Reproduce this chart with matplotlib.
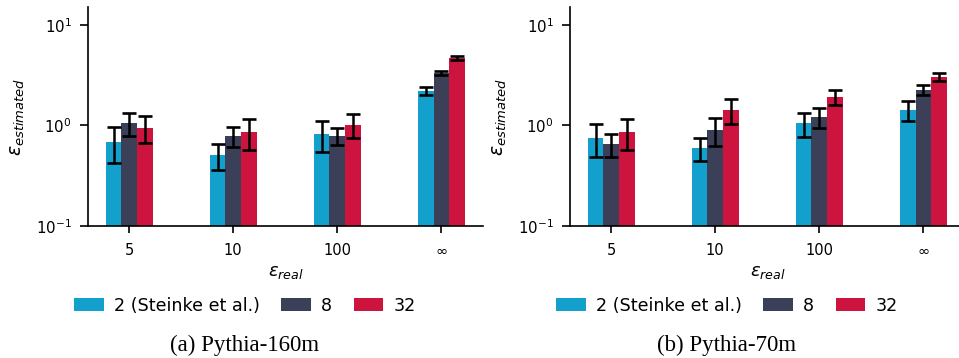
import matplotlib
matplotlib.use("Agg")
import matplotlib.pyplot as plt
import numpy as np

categories = ["5", "10", "100", r"$\infty$"]
series_names = ["2 (Steinke et al.)", "8", "32"]
colors = ["#14a0cd", "#3c3f58", "#cd143e"]

# Pythia-160m
p160_vals = [
    [0.69, 0.51, 0.83, 2.21],
    [1.06, 0.79, 0.79, 3.34],
    [0.95, 0.865, 1.02, 4.72],
]
p160_err = [
    [0.27, 0.15, 0.28, 0.21],
    [0.28, 0.18, 0.155, 0.16],
    [0.28, 0.30, 0.275, 0.20],
]
# Pythia-70m
p70_vals = [
    [0.755, 0.60, 1.06, 1.43],
    [0.658, 0.906, 1.22, 2.27],
    [0.865, 1.43, 1.93, 3.05],
]
p70_err = [
    [0.27, 0.155, 0.285, 0.33],
    [0.17, 0.285, 0.27, 0.27],
    [0.29, 0.40, 0.32, 0.27],
]
captions = ["(a) Pythia-160m", "(b) Pythia-70m"]

W, H = 959, 358
fig = plt.figure(figsize=(W / 100, H / 100), dpi=100)

def px_rect(x0, x1, ytop, ybot):
    return [x0 / W, (H - ybot) / H, (x1 - x0) / W, (ybot - ytop) / H]

axes_px = [(88, 483), (570, 965)]
legend_cx = [245, 727]
datasets = [(p160_vals, p160_err), (p70_vals, p70_err)]

x = np.arange(len(categories))
width = 0.15
for k, ((vals, errs), (x0, x1)) in enumerate(zip(datasets, axes_px)):
    ax = fig.add_axes(px_rect(x0, x1, 7, 226))
    handles = []
    for i in range(3):
        b = ax.bar(x + (i - 1) * width, vals[i], width, color=colors[i],
                   label=series_names[i], zorder=2)
        ax.errorbar(x + (i - 1) * width, vals[i], yerr=errs[i], fmt="none",
                    ecolor="black", elinewidth=1.8, capsize=4.7, capthick=1.9,
                    zorder=3)
        handles.append(b)
    ax.set_yscale("log")
    ax.set_ylim(0.1, 15.1)
    ax.set_xlim(-0.395, 3.4)
    ax.set_xticks(x)
    ax.set_xticklabels(categories, fontsize=10.5)
    ax.tick_params(axis="y", labelsize=10.8, length=5.8, width=1.2, pad=6)
    ax.tick_params(axis="x", length=5.0, width=1.2, pad=7)
    ax.minorticks_off()
    ax.set_yticks([0.1, 1, 10])
    for s in ["top", "right"]:
        ax.spines[s].set_visible(False)
    for s in ["left", "bottom"]:
        ax.spines[s].set_linewidth(1.2)
    ax.set_ylabel(r"$\varepsilon_{estimated}$", fontsize=13.5, labelpad=6.5)
    ax.set_xlabel(r"$\varepsilon_{real}$", fontsize=13, labelpad=4)
    fig.legend(handles=handles, labels=series_names, loc="center",
               bbox_to_anchor=(legend_cx[k] / W, (H - 306) / H), ncol=3,
               frameon=False, fontsize=12.6, handlelength=1.7, handleheight=0.75,
               handletextpad=0.6, columnspacing=1.2)
    fig.text(legend_cx[k] / W, (H - 345) / H, captions[k], ha="center",
             va="center", fontsize=16.5, family="Liberation Serif")

fig.savefig("out.png", dpi=100)
